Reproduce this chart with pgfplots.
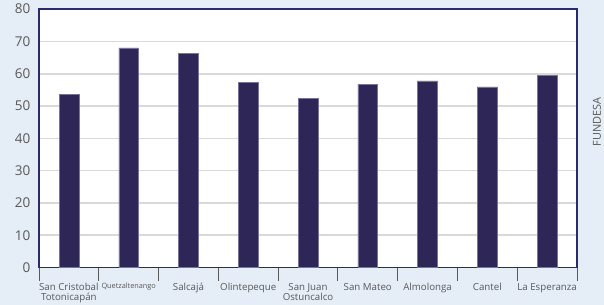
\documentclass[border=0pt]{standalone}
\usepackage{pgfplots}
\pgfplotsset{compat=1.18}
\usepackage{fontspec}
\setmainfont{Open Sans}
\definecolor{bgc}{HTML}{E5EDF6}
\definecolor{frame}{HTML}{2B2A6E}
\definecolor{barc}{HTML}{2D2656}
\definecolor{baredge}{HTML}{77739C}
\definecolor{gridc}{HTML}{D9D9D9}
\definecolor{txt}{HTML}{595959}
\begin{document}
\begin{tikzpicture}
\fill[bgc] (-39bp,-37.5bp) rectangle (565bp,267.5bp);
\path[use as bounding box] (-39bp,-37.5bp) rectangle (565bp,267.5bp);
\begin{axis}[
  at={(0,0)}, anchor=south west,
  scale only axis,
  width=538bp, height=258.4bp,
  xmin=-0.5, xmax=8.5, ymin=0, ymax=80,
  axis background/.style={fill=white},
  axis line style={draw=frame, line width=1.8bp},
  ytick={0,10,...,80},
  ymajorgrids,
  grid style={draw=gridc, line width=1.6bp},
  ytick style={draw=none},
  yticklabel style={font=\fontsize{13.5bp}{15bp}\selectfont, text=txt, xshift=-1bp},
  /pgf/number format/assume math mode=true,
  xtick pos=bottom,
  ytick pos=left,
  tick align=outside,
  xtick={0,...,8},
  xticklabels={{San Cristobal\\Totonicap\'an},{\fontsize{7.3bp}{8bp}\selectfont Quetzaltenango},Salcaj\'a,Olintepeque,{San Juan\\Ostuncalco},San Mateo,Almolonga,Cantel,La Esperanza},
  major x tick style={draw=none},
  minor xtick={-0.5,0.5,...,8.5},
  minor x tick style={draw=txt, line width=0.8bp},
  minor tick length=13bp,
  xticklabel style={font=\fontsize{9.7bp}{10bp}\selectfont, text=txt, align=center, anchor=north, yshift=-10.5bp, inner sep=1bp},
  clip=false,
]
\addplot[ybar, bar width=0.33, fill=barc, draw=baredge, line width=0.5bp]
  coordinates {(0,53.5) (1,68.0) (2,66.2) (3,57.3) (4,52.3) (5,56.6) (6,57.8) (7,55.9) (8,59.5)};
\end{axis}
\node[rotate=90, text=txt, font=\fontsize{11bp}{12bp}\selectfont, inner sep=0] at (558bp,145.5bp) {FUNDESA};
\end{tikzpicture}
\end{document}
